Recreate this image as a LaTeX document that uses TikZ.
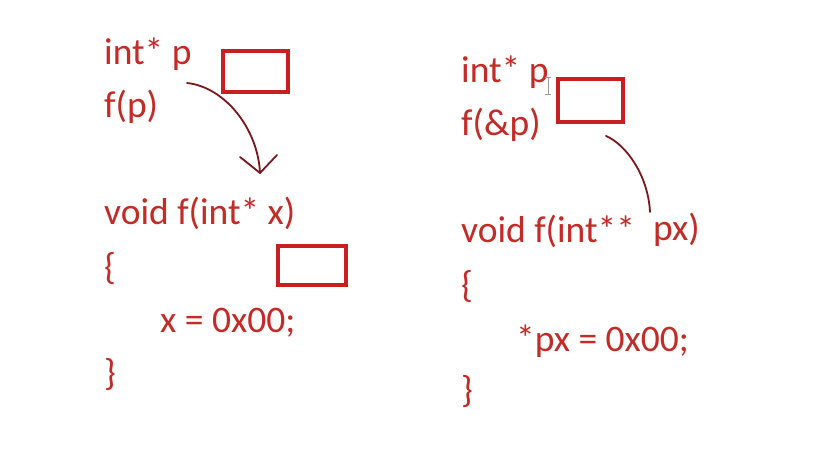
\documentclass[tikz,border=0pt]{standalone}
\usepackage{fontspec}
\setmainfont{Carlito}
\definecolor{codered}{RGB}{196,42,38}
\definecolor{boxred}{RGB}{200,32,32}
\definecolor{inkred}{RGB}{125,22,28}
\begin{document}
\begin{tikzpicture}[x=1pt,y=1pt,
  code/.style={anchor=base west, inner sep=0pt, text=codered, font=\fontsize{37.5}{44}\selectfont},
  cell/.style={draw=boxred, line width=3.2pt, fill=none},
  ink/.style={draw=inkred, line width=1.8pt, line cap=round, line join=round}]
\useasboundingbox (0,0) rectangle (833,449);
\fill[white] (0,0) rectangle (833,449);
% left column
\node[code] (lp) at (104,384) {int* p};
\node[code] (lf) at (104,331) {f(p)};
\node[code] (lv) at (104,224) {void f(int* x)};
\node[code] (lo) at (104,169) {\{};
\node[code] (lx) at (160,116) {x = 0x00;};
\node[code] (lc) at (104,63) {\}};
\draw[cell] (223,357) rectangle (288,398);
\draw[cell] (278,164) rectangle (346,203);
\coordinate (a1s) at (187,366);
\coordinate (a1e) at (260,276);
\draw[ink] (a1s) .. controls (225,362) and (258,320) .. (a1e);
\draw[ink] (a1e) -- ++(-20,16);
\draw[ink] (a1e) -- ++(17,18);
% right column
\node[code] (rp) at (461,366) {int* p};
\node[code] (rf) at (461,313) {f(\&p)};
\node[code] (rv) at (461,206) {void f(int**};
\node[code] (rx) at (653,208) {px)};
\node[code] (ro) at (461,151) {\{};
\node[code] (ry) at (516,97) {*px = 0x00;};
\node[code] (rc) at (461,46) {\}};
\draw[cell] (558,327) rectangle (623,370);
\coordinate (a2s) at (606,313);
\coordinate (a2e) at (650,237);
\draw[ink] (a2s) .. controls (625,305) and (648,275) .. (a2e);
% text cursor
\draw[gray!80, line width=1pt] (548,371) -- (548,354) (545,371) -- (551,371) (545,354) -- (551,354);
\end{tikzpicture}
\end{document}
